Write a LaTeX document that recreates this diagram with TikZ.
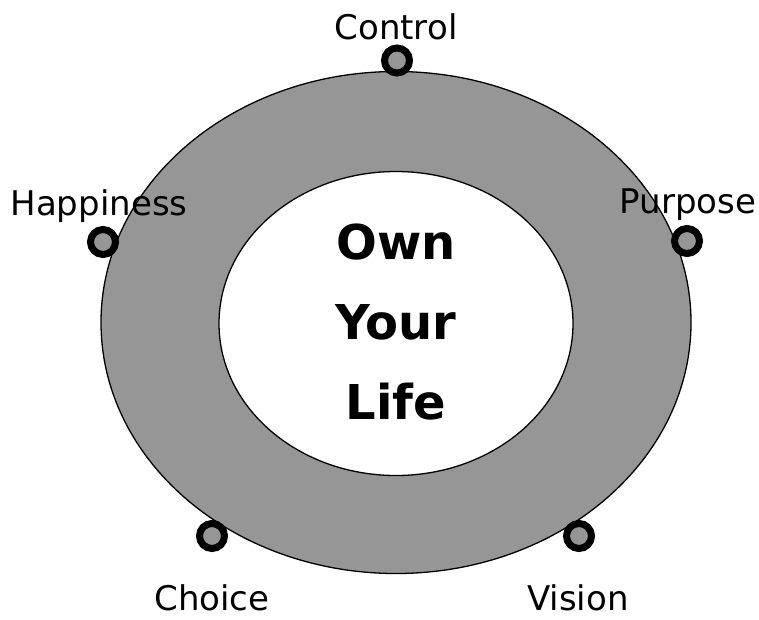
\documentclass[tikz,border=0pt]{standalone}
\usepackage{fontspec}
\setmainfont{DejaVu Sans}
\usetikzlibrary{shapes.geometric}
\definecolor{ringgray}{RGB}{150,150,150}
\begin{document}
\begin{tikzpicture}[x=1pt,y=-1pt,
  ring/.style={ellipse, draw=black, line width=1.3pt, inner sep=0pt},
  knob/.style={circle, draw=black, line width=7pt, fill=ringgray, minimum size=25pt, inner sep=0pt},
  lbl/.style={anchor=base, font=\fontsize{34}{40}\selectfont, inner sep=0pt},
  title/.style={align=center, font=\fontsize{48}{80}\selectfont\bfseries, inner sep=0pt}]
\useasboundingbox (0,0) rectangle (759,619);
\node[ring, fill=ringgray, minimum width=590pt, minimum height=502pt] (outer) at (396,322.5) {};
\node[ring, fill=white, minimum width=354pt, minimum height=304pt] (inner) at (396,323.5) {};
\node[title] (life) at (396,322) {Own\\Your\\Life};
\node[knob] (kcontrol) at (397,60.5) {};
\node[knob] (khappy) at (103,242) {};
\node[knob] (kpurpose) at (687,241) {};
\node[knob] (kchoice) at (212,536) {};
\node[knob] (kvision) at (579,536) {};
\node[lbl] (tcontrol) at (396,39) {Control};
\node[lbl] (thappy) at (99,215) {Happiness};
\node[lbl] (tpurpose) at (688,213) {Purpose};
\node[lbl] (tchoice) at (212,610) {Choice};
\node[lbl] (tvision) at (578,610) {Vision};
\end{tikzpicture}
\end{document}
